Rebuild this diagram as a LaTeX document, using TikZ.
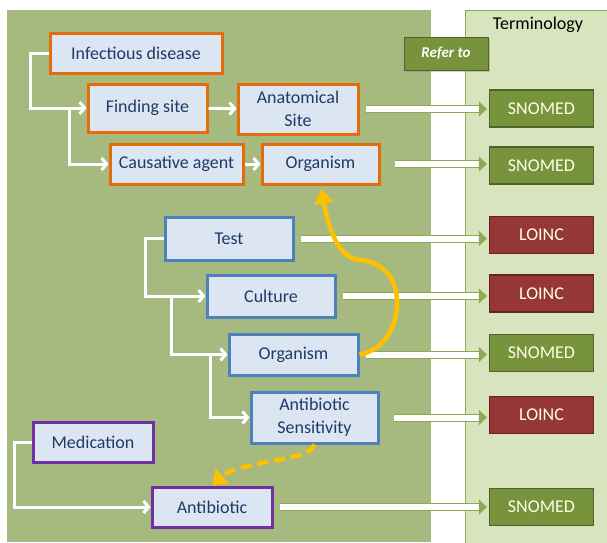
\documentclass[tikz,border=0pt]{standalone}
\usepackage{fontspec}
\setmainfont{Carlito}
\usetikzlibrary{arrows.meta,shadows}

\definecolor{panel}{HTML}{A6BA80}
\definecolor{termpanel}{HTML}{D8E4BD}
\definecolor{termline}{HTML}{8DAA52}
\definecolor{boxfill}{HTML}{DCE6F2}
\definecolor{boxtext}{HTML}{1F3A66}
\definecolor{orangeline}{HTML}{E46C0A}
\definecolor{blueline}{HTML}{4F81BD}
\definecolor{purpleline}{HTML}{7030A0}
\definecolor{snomedfill}{HTML}{77933C}
\definecolor{snomedline}{HTML}{4F6228}
\definecolor{loincfill}{HTML}{953735}
\definecolor{loincline}{HTML}{632523}
\definecolor{hint}{HTML}{FFC000}

\begin{document}
\begin{tikzpicture}[x=1pt,y=-1pt,
  every node/.style={font=\fontsize{18}{23}\selectfont},
  concept/.style={draw, line width=3pt, fill=boxfill, text=boxtext, align=center, inner sep=2pt,
    minimum height=40pt, drop shadow={opacity=0.35, shadow xshift=2pt, shadow yshift=-2pt}},
  disease/.style={concept, draw=orangeline},
  lab/.style={concept, draw=blueline},
  drug/.style={concept, draw=purpleline},
  term/.style={draw, line width=1.2pt, text=white!90!yellow, minimum width=104pt, minimum height=37pt},
  snomed/.style={term, fill=snomedfill, draw=snomedline},
  loinc/.style={term, fill=loincfill, draw=loincline},
  tree/.style={draw=white, line width=3pt, -{Straight Barb[length=5pt,width=12pt]}},
  refer/.style={draw=termline, line width=1pt, double=white, double distance=6pt, shorten <=6pt, shorten >=2pt,
    -{Triangle[length=8pt,width=15pt]}},
  hintarrow/.style={draw=hint, line width=4.5pt, -{Triangle[length=14pt,width=19pt]}}]

\useasboundingbox (0,0) rectangle (607,542);
\fill[panel] (7,10) rectangle (431,542);
\filldraw[fill=termpanel, draw=termline, line width=1pt] (465,10) rectangle (620,550);
\node (termtitle) at (538,25) {Terminology};
\node[fill=snomedfill, draw=snomedline, line width=1pt, text=white, font=\fontsize{15}{17}\selectfont\bfseries\itshape,
  minimum width=84pt, minimum height=33pt, drop shadow={opacity=0.35, shadow xshift=2pt, shadow yshift=-2pt}]
  (referto) at (446,53.5) {Refer to};

\node[disease, minimum width=172pt] (infect) at (136,53) {Infectious disease};
\node[disease, minimum width=119pt, minimum height=48pt] (finding) at (147.5,108) {Finding site};
\node[disease, minimum width=120pt, minimum height=50pt] (anat) at (298,109) {Anatomical\\Site};
\node[disease, minimum width=133pt] (causative) at (176.5,164) {Causative agent};
\node[disease, minimum width=117pt] (orgA) at (320.5,164) {Organism};

\node[lab, minimum width=128pt, minimum height=43pt] (test) at (229,238.5) {Test};
\node[lab, minimum width=128pt, minimum height=42pt] (culture) at (271,296) {Culture};
\node[lab, minimum width=129pt, minimum height=41pt] (orgB) at (293.5,354.5) {Organism};
\node[lab, minimum width=127pt, minimum height=51pt] (sens) at (314.5,417.5) {Antibiotic\\Sensitivity};

\node[drug, minimum width=120pt] (medic) at (93,442) {Medication};
\node[drug, minimum width=120pt] (antib) at (212,507) {Antibiotic};

\node[snomed] (snA) at (541.5,108.5) {SNOMED};
\node[snomed] (snB) at (541.5,165.5) {SNOMED};
\node[loinc] (lnA) at (541.5,235) {LOINC};
\node[loinc] (lnB) at (541.5,293.5) {LOINC};
\node[snomed] (snC) at (541.5,353) {SNOMED};
\node[loinc] (lnC) at (541.5,415) {LOINC};
\node[snomed] (snD) at (541.5,507) {SNOMED};

\draw[tree] (infect.west) -- ++(-18,0) |- (finding.west);
\draw[tree] ([xshift=-17pt]finding.west) |- (causative.west);
\draw[tree] (finding) -- (anat);
\draw[tree] (causative) -- (orgA);
\draw[tree] (test.west) -- ++(-18,0) |- (culture.west);
\draw[tree] ([xshift=-34pt]culture.west) |- (orgB.west);
\draw[tree] ([xshift=-17pt]orgB.west) |- (sens.west);
\draw[tree] (medic.west) -- ++(-17,0) |- (antib.west);

\draw[refer] (anat.east) -- (anat.east -| snA.west);
\draw[refer] ([xshift=8pt]orgA.east) -- (orgA.east -| snB.west);
\draw[refer] (test.east) -- (test.east -| lnA.west);
\draw[refer] (culture.east) -- (culture.east -| lnB.west);
\draw[refer] (orgB.east) -- (orgB.east -| snC.west);
\draw[refer] ([xshift=8pt]sens.east) -- (sens.east -| lnC.west);
\draw[refer] (antib.east) -- (antib.east -| snD.west);

\draw[hintarrow, shorten >=4pt] (orgB.east) .. controls (385,350) and (398,325) .. (397,300)
  .. controls (396,275) and (380,262) .. (360,260) .. controls (340,258) and (330,235) .. (orgA.south);
\draw[hintarrow, dash pattern=on 11pt off 6pt] (sens.south) .. controls (310,462) and (240,460) .. (antib.north);

\end{tikzpicture}
\end{document}
